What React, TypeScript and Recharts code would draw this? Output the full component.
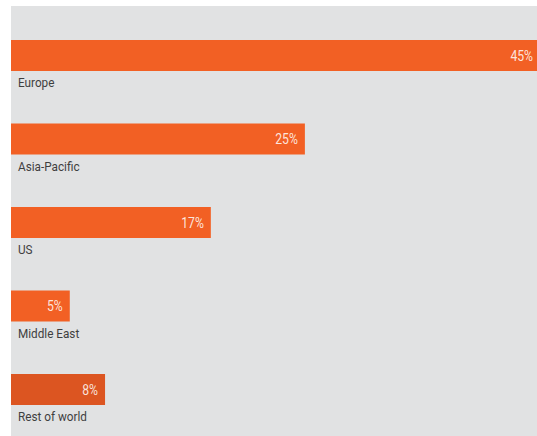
import { BarChart, Bar, XAxis, YAxis, LabelList, Cell } from 'recharts'

const regions = ['Europe', 'Asia-Pacific', 'US', 'Middle East', 'Rest of world']
const shares = [45, 25, 17, 5, 8]
const barColors = ['#f26024', '#f26024', '#f26024', '#f26024', '#dc5521']

const BG = '#e1e2e3'
const TEXT = '#3f3f3f'
const FONT = 'Roboto, "Noto Sans", sans-serif'
const SQUEEZE = 0.87

const data = regions.map((name, i) => ({ name, share: shares[i] }))

function RegionLabel(props: any) {
  const { x, y, height, value } = props
  const tx = Number(x) + 7
  const ty = Number(y) + Number(height) + 16
  return (
    <text
      transform={`translate(${tx},${ty}) scale(${SQUEEZE},1)`}
      fill={TEXT}
      fontSize={13.5}
      fontFamily={FONT}
    >
      {value}
    </text>
  )
}

function ShareLabel(props: any) {
  const { x, y, width, height, value } = props
  const tx = Number(x) + Number(width) - 7
  const ty = Number(y) + Number(height) / 2 + 5
  return (
    <text
      transform={`translate(${tx},${ty}) scale(${SQUEEZE},1)`}
      textAnchor="end"
      fill="#fff"
      fillOpacity={0.85}
      fontSize={14}
      fontFamily={FONT}
    >
      {value}%
    </text>
  )
}

export default function App() {
  return (
    <div style={{ position: 'absolute', left: 0, top: 0, width: 537, height: 436, background: '#fff' }}>
      <div style={{ position: 'absolute', left: 11, top: 6, width: 526, height: 430, background: BG, overflow: 'hidden' }}>
        <BarChart
          width={529}
          height={430}
          data={data}
          layout="vertical"
          margin={{ top: 8, right: 0, left: 0, bottom: 4.5 }}
          barSize={31}
        >
          <XAxis type="number" domain={[0, 45]} hide />
          <YAxis type="category" dataKey="name" hide width={0} />
          <Bar dataKey="share" isAnimationActive={false}>
            {data.map((d, i) => (
              <Cell key={d.name} fill={barColors[i]} />
            ))}
            <LabelList dataKey="share" content={<ShareLabel />} />
            <LabelList dataKey="name" content={<RegionLabel />} />
          </Bar>
        </BarChart>
      </div>
    </div>
  )
}
